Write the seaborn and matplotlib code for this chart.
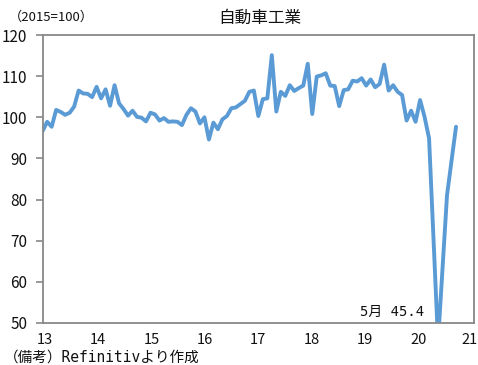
import numpy as np
import pandas as pd
import matplotlib
matplotlib.use("Agg")
import matplotlib.pyplot as plt
import matplotlib.transforms as mtransforms
import seaborn as sns

# Monthly index, Jan 2013 - Sep 2020 (2015=100)
start_year = 13
values = [
    96.7, 98.9, 97.7, 101.8, 101.3, 100.6, 101.1, 102.6, 106.5, 105.8, 105.7, 104.9,   # 2013
    107.4, 104.6, 106.8, 102.8, 107.8, 103.4, 102.0, 100.4, 101.6, 100.1, 99.9, 99.0,  # 2014
    101.1, 100.7, 99.2, 99.8, 98.9, 99.0, 98.9, 98.1, 100.6, 102.2, 101.4, 98.5,       # 2015
    100.0, 94.6, 98.7, 97.1, 99.5, 100.3, 102.2, 102.4, 103.2, 104.0, 106.2, 106.5,    # 2016
    100.3, 104.4, 104.6, 115.1, 101.4, 106.2, 105.2, 107.8, 106.4, 107.1, 107.7, 113.0,  # 2017
    100.8, 109.9, 110.2, 110.7, 107.7, 107.6, 102.7, 106.6, 106.8, 108.9, 108.7, 109.5,  # 2018
    107.7, 109.2, 107.3, 108.1, 112.8, 106.5, 107.8, 106.2, 105.4, 99.2, 101.6, 98.9,    # 2019
    104.2, 100.1, 94.9, 70.2, 45.4, 63.3, 81.1, 89.4, 97.7,                              # 2020
]
x_ticks = [13, 14, 15, 16, 17, 18, 19, 20, 21]
y_ticks = [50, 60, 70, 80, 90, 100, 110, 120]
title = "自動車工業"
unit_label = "（2015=100）"
note = "（備考）Refinitivより作成"
annot_text = "5月 45.4"
annot_pos = (20.08, 51.0)

months = np.arange(len(values))
df = pd.DataFrame({"t": start_year + months / 12.0, "v": values})

sns.set_theme(style="white")
plt.rcParams["font.family"] = ["Noto Sans CJK JP", "DejaVu Sans"]
mono = ["DejaVu Sans Mono", "Noto Sans CJK JP"]

fig = plt.figure(figsize=(4.78, 3.65), dpi=100)
ax = fig.add_axes([0.0893, 0.1151, 0.9916 - 0.0893, 0.9041 - 0.1151])

sns.lineplot(data=df, x="t", y="v", ax=ax, color="#5B9BD5", linewidth=2.8)

ax.set_xlim(13, 21)
ax.set_ylim(50, 120)
ax.set_xticks(x_ticks)
ax.set_xticklabels([str(t) for t in x_ticks], fontsize=10.5, color="#111111")
ax.set_yticks(y_ticks)
ax.set_yticklabels([str(t) for t in y_ticks], fontsize=11, color="#111111")
ax.set_xlabel("")
ax.set_ylabel("")
ax.tick_params(axis="y", which="both", left=True, length=5, width=1.2, color="#888888", pad=6)
ax.tick_params(axis="x", which="both", bottom=False, length=0, pad=7)
for s in ax.spines.values():
    s.set_color("#888888")
    s.set_linewidth(1.3)
    s.set_visible(True)

# x labels slightly compressed as in the reference
n = len(x_ticks)
for k, lab in enumerate(ax.get_xticklabels()):
    dx = 2.3 - 0.6 * k
    if k == n - 1:
        dx -= 1.5
    lab.set_transform(lab.get_transform() + mtransforms.ScaledTranslation(dx / 100, 0, fig.dpi_scale_trans))

ax.text(annot_pos[0], annot_pos[1], annot_text, ha="right", va="bottom", fontsize=10,
        color="#111111", family=mono)

fig.text(259.5 / 478, 1 - 18.5 / 365, title, ha="center", va="center", fontsize=12, color="#111111")
fig.text(9 / 478, 1 - 17 / 365, unit_label, ha="left", va="center", fontsize=9.5, color="#111111")
fig.text(4 / 478, 1 - 357 / 365, note, ha="left", va="center", fontsize=10.5, color="#111111",
         family=mono)

fig.savefig("out.png", dpi=100)
